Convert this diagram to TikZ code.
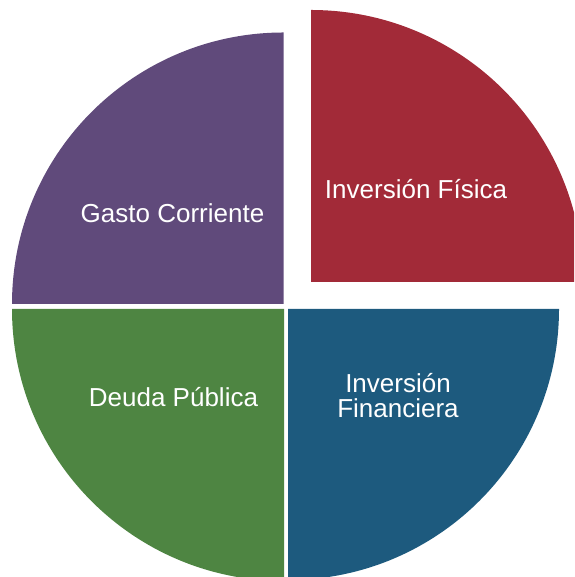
\documentclass[tikz,border=0pt]{standalone}
\usepackage{fontspec}
\setmainfont{Liberation Sans}
\definecolor{slicepurple}{HTML}{604A7B}
\definecolor{slicered}{HTML}{A22A38}
\definecolor{slicegreen}{HTML}{4E8542}
\definecolor{sliceblue}{HTML}{1D5A7E}
\begin{document}
\begin{tikzpicture}[x=1pt,y=1pt,
  lbl/.style={text=white,font=\fontsize{26}{25}\selectfont,inner sep=0pt,anchor=base,align=center}]
\useasboundingbox (0,0) rectangle (574,577);
\clip (0,0) rectangle (574,577);
\fill[slicepurple] (283.5,273) -- ++(90:271.5) arc (90:180:271.5) -- cycle;
\fill[slicegreen] (284,268) -- ++(180:272) arc (180:270:272) -- cycle;
\fill[sliceblue] (288,268) -- ++(270:271) arc (270:360:271) -- cycle;
\fill[slicered] (311,295) -- ++(0:272) arc (0:90:272) -- cycle;
\node[lbl] (gc) at (172.5,354) {Gasto Corriente};
\node[lbl] (if) at (416,378) {Inversión Física};
\node[lbl] (dp) at (173.5,170) {Deuda Pública};
\node[lbl] (ifin) at (398,159) {Inversión\\Financiera};
\end{tikzpicture}
\end{document}
